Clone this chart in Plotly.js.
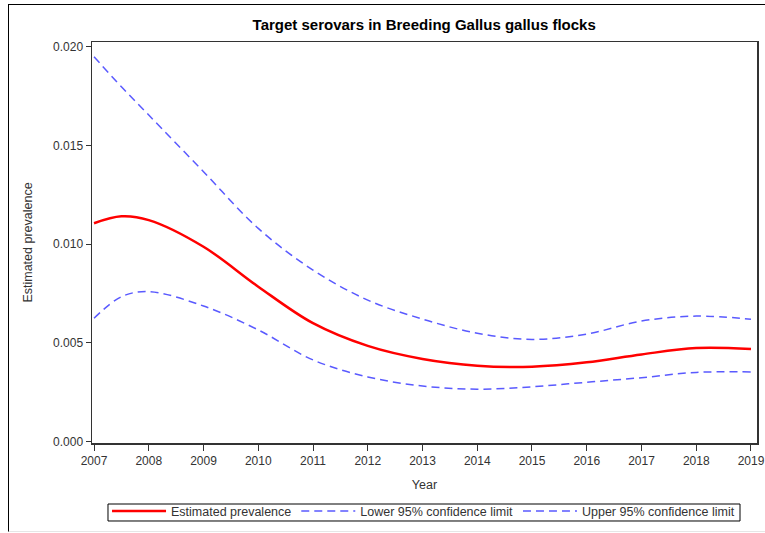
<!DOCTYPE html>
<html><head><meta charset="utf-8">
<script src="https://cdn.plot.ly/plotly-3.0.1.min.js"></script>
<style>
body{margin:0;padding:0;background:#fff;}
#frame{position:absolute;left:8px;top:4px;width:760px;height:526px;border-top:1.5px solid #000;border-left:1.5px solid #000;border-bottom:1px solid #e6e6e6;pointer-events:none;}
#chart{position:absolute;left:0;top:0;width:765px;height:533px;}
</style></head>
<body>
<div id="chart"></div>
<div id="frame"></div>
<script>
const years = [2007, 2007.5, 2008, 2009, 2010, 2011, 2012, 2013, 2014, 2015, 2016, 2017, 2018, 2019];
const estimate = [0.01106, 0.01141, 0.01122, 0.00987, 0.00785, 0.00600, 0.00485, 0.00419, 0.00385, 0.00380, 0.00402, 0.00442, 0.00474, 0.00469];
const lower95 = [0.00625, 0.00734, 0.00760, 0.00687, 0.00566, 0.00414, 0.00328, 0.00282, 0.00266, 0.00278, 0.00301, 0.00324, 0.00351, 0.00353];
const upper95 = [0.01949, 0.01797, 0.01654, 0.01367, 0.01080, 0.00869, 0.00717, 0.00621, 0.00549, 0.00518, 0.00545, 0.00611, 0.00636, 0.00620];
const xTicks = [2007, 2008, 2009, 2010, 2011, 2012, 2013, 2014, 2015, 2016, 2017, 2018, 2019];
const yTicks = [0.000, 0.005, 0.010, 0.015, 0.020];
const yTickLabels = ['0.000', '0.005', '0.010', '0.015', '0.020'];

const F = 'Liberation Sans, Arial, sans-serif';
const traces = [
  {x: years, y: estimate, name: 'Estimated prevalence', mode: 'lines',
   line: {color: '#ff0000', width: 2.5, shape: 'spline', smoothing: 1}},
  {x: years, y: lower95, name: 'Lower 95% confidence limit', mode: 'lines',
   line: {color: '#5a5aff', width: 1.5, dash: '8px,5px', shape: 'spline', smoothing: 1}},
  {x: years, y: upper95, name: 'Upper 95% confidence limit', mode: 'lines',
   line: {color: '#5a5aff', width: 1.5, dash: '8px,5px', shape: 'spline', smoothing: 1}}
];
const layout = {
  width: 765, height: 533,
  margin: {l: 92, r: 8, t: 42, b: 90, autoexpand: false},
  paper_bgcolor: '#fff', plot_bgcolor: '#fff',
  font: {family: F, size: 12, color: '#333'},
  title: {text: '<b>Target serovars in Breeding Gallus gallus flocks</b>',
          font: {family: F, size: 15, color: '#000'},
          x: 0.5545, xanchor: 'center', y: 0.953, yanchor: 'middle'},
  xaxis: {range: [2006.963, 2019.11], tickvals: xTicks, ticktext: xTicks.map(String),
          showgrid: false, zeroline: false, showline: true, mirror: true,
          linecolor: '#333', linewidth: 1.5, ticks: 'outside', ticklen: 6, tickwidth: 1,
          tickcolor: '#333', tickfont: {family: F, size: 12, color: '#333'},
          title: {text: 'Year', font: {family: F, size: 12.5, color: '#333'}, standoff: 13}},
  yaxis: {range: [-0.0000658, 0.020238], tickvals: yTicks, ticktext: yTickLabels,
          showgrid: false, zeroline: false, showline: true, mirror: true,
          linecolor: '#333', linewidth: 1.5, ticks: 'outside', ticklen: 5, tickwidth: 1,
          tickcolor: '#333', tickfont: {family: F, size: 12, color: '#333'},
          title: {text: 'Estimated prevalence', font: {family: F, size: 12.5, color: '#333'}, standoff: 17}},
  showlegend: true,
  legend: {orientation: 'h', x: 0.0226, xanchor: 'left', y: -0.1334, yanchor: 'top',
           borderwidth: 0, bgcolor: 'rgba(0,0,0,0)',
           font: {family: F, size: 12.5, color: '#333'}, tracegroupgap: 0,
           itemwidth: 54},
  shapes: [
    {type: 'rect', xref: 'paper', yref: 'paper', x0: 0.02406, x1: 0.97444, y0: -0.19451, y1: -0.15212,
     line: {color: '#000', width: 1}, fillcolor: 'rgba(0,0,0,0)', layer: 'below'}
  ]
};
Plotly.newPlot('chart', traces, layout, {staticPlot: true, displayModeBar: false});
</script>
</body></html>
